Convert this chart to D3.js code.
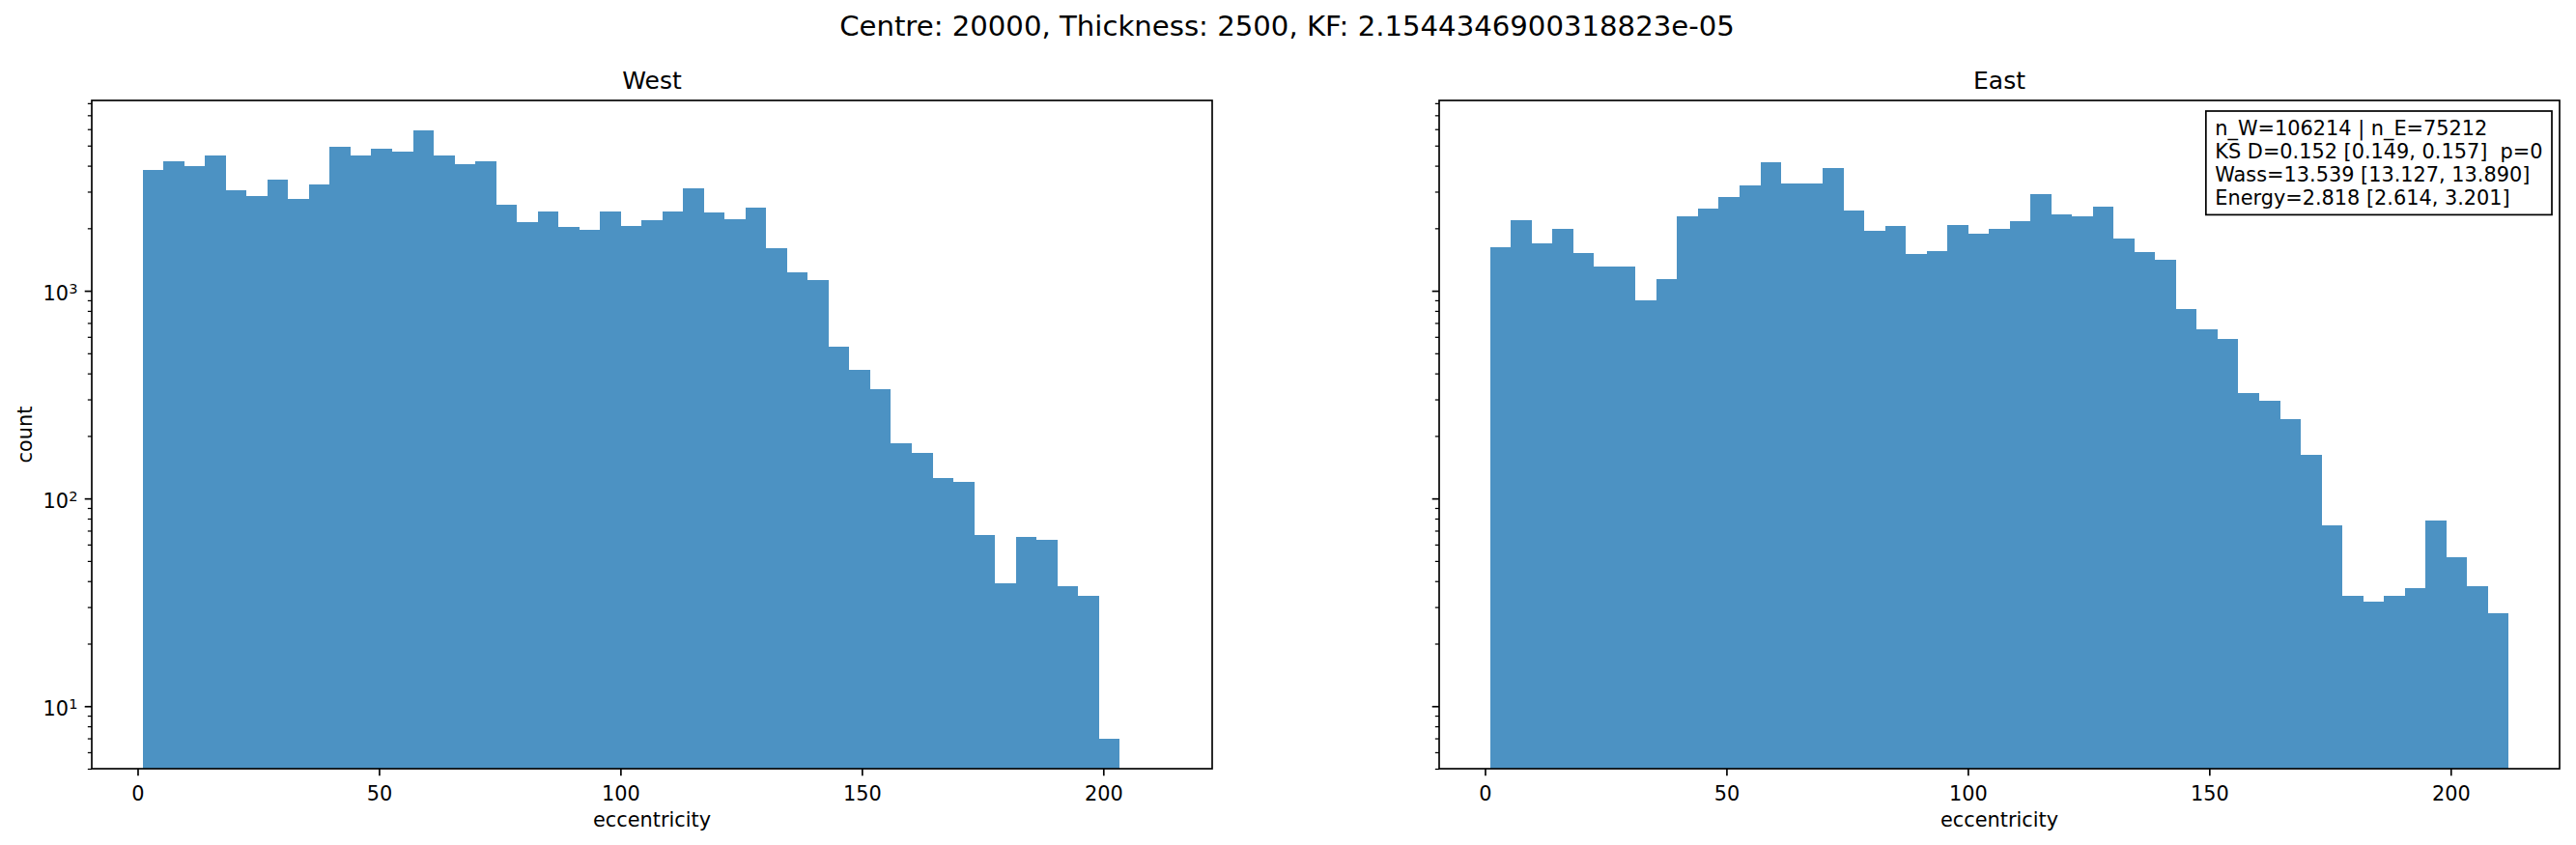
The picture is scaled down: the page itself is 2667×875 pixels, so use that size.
<!DOCTYPE html>
<html><head><meta charset="utf-8">
<script src="https://cdn.jsdelivr.net/npm/d3@7"></script>
<style>
body{margin:0;background:#fff}
svg{display:block;background:#fff}
text{font-family:"DejaVu Sans",sans-serif;fill:#000;white-space:pre}
</style>
</head><body><svg id="chart"></svg>
<script>
// ---------- data ----------
const binEdges=[1.05,5.36,9.66,13.97,18.27,22.58,26.88,31.19,35.49,39.80,44.10,48.41,52.71,57.02,61.32,65.63,69.93,74.24,78.54,82.85,87.15,91.46,95.76,100.07,104.37,108.68,112.98,117.29,121.59,125.90,130.20,134.51,138.81,143.12,147.42,151.73,156.03,160.34,164.64,168.95,173.25,177.56,181.86,186.17,190.47,194.78,199.08,203.39,207.69,212.00];
const westCounts=[3800,4190,3970,4460,3040,2850,3420,2780,3240,4960,4460,4820,4660,5890,4500,4050,4190,2590,2140,2400,2030,1960,2420,2050,2180,2420,3130,2380,2200,2510,1610,1225,1120,538,417,337,185,166,126,120,67,39,65,63,38,34,7];
const eastCounts=[1620,2180,1690,1980,1520,1305,1305,899,1140,2275,2480,2820,3220,4150,3300,3300,3890,2440,1940,2050,1500,1550,2070,1875,1980,2160,2910,2330,2275,2530,1780,1530,1410,816,653,587,322,296,241,163,74,34,32,34,37,78,52,38,28];
const panelTitles=["West","East"];
const xTickValues=[0,50,100,150,200];
const yMajorTicks=[10,100,1000];
const supTitle="Centre: 20000, Thickness: 2500, KF: 2.1544346900318823e-05";
const statsLines=["n_W=106214 | n_E=75212","KS D=0.152 [0.149, 0.157]  p=0","Wass=13.539 [13.127, 13.890]","Energy=2.818 [2.614, 3.201]"];
const xLabelText="eccentricity";
const yLabelText="count";

// ---------- layout ----------
const W=2667,H=875;
const FS=20.83, TFS=25, STFS=29.17;
const axTop=104, axBottom=796;
const panelX=[[95,1255],[1490,2650]];
const barColor="#1f77b4";
const majorLen=7.29, minorLen=4.17, tickPad=7.29;

const svg=d3.select("#chart").attr("width",W).attr("height",H);

const allCounts=westCounts.concat(eastCounts);
const lo=Math.log10(d3.min(allCounts)), hi=Math.log10(d3.max(allCounts));
const lpad=(hi-lo)*0.05;
const yDomain=[Math.pow(10,lo-lpad),Math.pow(10,hi+lpad)];
const y=d3.scaleLog().domain(yDomain).range([axBottom,axTop]);

const nMax=Math.max(westCounts.length,eastCounts.length);
const xMin=binEdges[0], xMax=binEdges[nMax], xpad=(xMax-xMin)*0.05;

// minor ticks on log axis
const yMinorTicks=[];
for(let k=Math.floor(Math.log10(yDomain[0]));k<=Math.ceil(Math.log10(yDomain[1]));k++){
  for(let m=2;m<=9;m++){const v=m*Math.pow(10,k); if(v>=yDomain[0]&&v<=yDomain[1]) yMinorTicks.push(v);}
}

// suptitle
svg.append("text").attr("x",W/2-1).attr("y",37).attr("text-anchor","middle")
  .style("font-size",STFS+"px").text(supTitle);

const series=[westCounts,eastCounts];
series.forEach((counts,pi)=>{
  const [px0,px1]=panelX[pi];
  const x=d3.scaleLinear().domain([xMin-xpad,xMax+xpad]).range([px0,px1]);
  const g=svg.append("g");

  // bars
  g.append("g").selectAll("rect").data(counts).join("rect")
    .attr("x",(d,i)=>x(binEdges[i]))
    .attr("width",(d,i)=>x(binEdges[i+1])-x(binEdges[i]))
    .attr("y",d=>y(d))
    .attr("height",d=>axBottom-y(d))
    .attr("fill",barColor).attr("fill-opacity",0.8)
    .attr("shape-rendering","crispEdges");

  // x axis
  const xa=g.append("g").attr("transform",`translate(0,${axBottom})`)
    .call(d3.axisBottom(x).tickValues(xTickValues).tickFormat(d3.format("d")).tickSize(majorLen).tickPadding(tickPad));
  xa.select(".domain").remove();
  xa.selectAll("line").attr("stroke","#000").attr("stroke-width",1.67);
  xa.selectAll("text").attr("y",33).attr("dy",null).style("font-size",FS+"px").attr("fill","#000")
    .style("font-family",'"DejaVu Sans",sans-serif');

  // y minor
  const ym=g.append("g").attr("transform",`translate(${px0},0)`)
    .call(d3.axisLeft(y).tickValues(yMinorTicks).tickFormat("").tickSize(minorLen));
  ym.select(".domain").remove();
  ym.selectAll("line").attr("stroke","#000").attr("stroke-width",1.25);

  // y major
  const ya=g.append("g").attr("transform",`translate(${px0},0)`)
    .call(d3.axisLeft(y).tickValues(yMajorTicks).tickFormat("").tickSize(majorLen).tickPadding(tickPad));
  ya.select(".domain").remove();
  ya.selectAll("line").attr("stroke","#000").attr("stroke-width",1.67);
  if(pi===0){
    ya.selectAll(".tick").each(function(d){
      const t=d3.select(this).select("text");
      t.text(null).attr("x",-(majorLen+tickPad)).attr("dy",null).attr("y",9.5)
        .attr("text-anchor","end").style("font-size",FS+"px").attr("fill","#000")
        .style("font-family",'"DejaVu Sans",sans-serif');
      t.append("tspan").text("10");
      t.append("tspan").attr("dy",-7.5).style("font-size","14.6px").text(String(Math.round(Math.log10(d))));
    });
  } else {
    ya.selectAll("text").remove();
  }

  // spines
  g.append("rect").attr("x",px0).attr("y",axTop).attr("width",px1-px0).attr("height",axBottom-axTop)
    .attr("fill","none").attr("stroke","#000").attr("stroke-width",1.67);

  // titles
  g.append("text").attr("x",(px0+px1)/2).attr("y",axTop-12.5).attr("text-anchor","middle")
    .style("font-size",TFS+"px").text(panelTitles[pi]);
  g.append("text").attr("x",(px0+px1)/2).attr("y",856).attr("text-anchor","middle")
    .style("font-size",FS+"px").text(xLabelText);
  if(pi===0){
    g.append("text").attr("transform",`translate(32.5,${(axTop+axBottom)/2}) rotate(-90)`)
      .attr("text-anchor","middle").style("font-size",FS+"px").text(yLabelText);
  }

  // stats box on the East panel
  if(pi===1){
    const bx=g.append("g");
    const rect=bx.append("rect").attr("fill","#fff").attr("stroke","#000").attr("stroke-width",1.7);
    const tx=bx.append("text").style("font-size",FS+"px");
    statsLines.forEach((s,i)=>tx.append("tspan").attr("x",0).attr("y",i*23.9).text(s));
    const bb=tx.node().getBBox();
    const pad=9.5;
    const boxRight=px1-8, boxTop=axTop+11;
    const boxW=bb.width+2*pad;
    const tx0=boxRight-boxW+pad;
    tx.attr("transform",`translate(${tx0},${boxTop+25.3})`);
    rect.attr("x",boxRight-boxW).attr("y",boxTop).attr("width",boxW).attr("height",107.4);
  }
});
</script>
</body></html>
